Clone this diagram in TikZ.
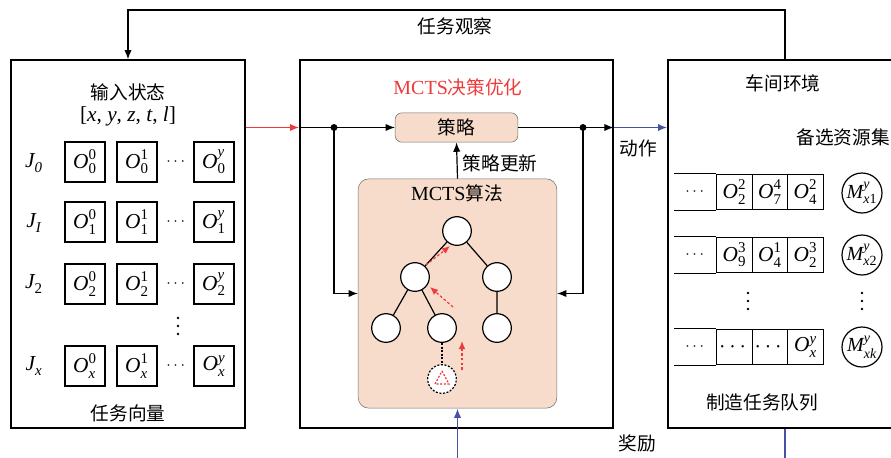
\documentclass[tikz,border=0pt]{standalone}
\usepackage{amsmath}
\usepackage{fontspec}
\setmainfont{Liberation Serif}
\newfontfamily\cjk{Noto Sans CJK SC}
\usetikzlibrary{arrows.meta,calc}
\definecolor{peach}{RGB}{248,220,203}
\definecolor{myred}{RGB}{238,58,58}
\definecolor{myblue}{RGB}{70,82,165}
\definecolor{bgray}{RGB}{110,110,110}
\newcommand\iv[1]{\textit{#1}}
\newcommand\vO[3]{$\textit{#1}_{\text{#2}}^{\text{#3}}$}
\begin{document}
\begin{tikzpicture}[x=0.75pt,y=-0.75pt,
  font=\fontsize{14}{16}\selectfont,
  arr/.style={-{Latex[length=7pt,width=5.5pt]}},
  frame/.style={draw=black, line width=1pt, rectangle, inner sep=0pt},
  obox/.style={draw, line width=0.9pt, rectangle, minimum width=30pt, minimum height=30pt, inner sep=0pt, fill=white, font=\fontsize{16}{18}\selectfont},
  qcell/.style={draw, line width=0.9pt, rectangle, minimum width=26.6pt, minimum height=26.3pt, inner sep=0pt, font=\fontsize{16}{18}\selectfont},
  tn/.style={circle, draw, line width=0.9pt, fill=white, minimum size=21.5pt, inner sep=0pt},
  mc/.style={circle, draw, line width=0.9pt, fill=white, minimum size=30pt, inner sep=0pt, font=\fontsize{15}{17}\selectfont},
  lab/.style={font=\cjk\fontsize{14}{16}\selectfont, inner sep=1pt},
  rowlab/.style={font=\fontsize{16}{18}\selectfont},
  dots/.style={inner sep=0pt, font=\fontsize{13}{14}\selectfont},
  vd/.style={circle, fill, inner sep=0pt, minimum size=2pt},
  rdash/.style={myred, line width=0.9pt, dash pattern=on 2pt off 1.6pt, -{Latex[length=6pt,width=5pt]}},
  line/.style={line width=0.9pt},
  cline/.style={line width=1.3pt}
]
\path[use as bounding box] (0,0) rectangle (891,457);
\clip (0,0) rectangle (891,457);

% frames
\node[frame, minimum width=175.5pt, minimum height=276pt] (left) at (128,244) {};
\node[frame, minimum width=234.75pt, minimum height=276pt] (mid) at (456.5,244) {};
\node[frame, minimum width=225pt, minimum height=276pt] (right) at (818,244) {};

% top observation loop
\coordinate (obs) at (785,60);
\draw[line, arr] (obs) -- (785,10) -| (left.north);
\node[lab] (obsl) at (455,26) {任务观察};

% left box content
\node[lab] (instate) at (128,92) {输入状态};
\node[font=\fontsize{16}{18}\selectfont] (vec) at (128,116) {[\iv{x}, \iv{y}, \iv{z}, \iv{t}, \iv{l}]};
\node[rowlab] (j0) at (34,163) {\vO{J}{\itshape 0}{}};
\node[rowlab] (j1) at (34,223) {\vO{J}{\itshape I}{}};
\node[rowlab] (j2) at (34,284) {\vO{J}{2}{}};
\node[rowlab] (jx) at (34,366) {\vO{J}{\itshape x}{}};
\foreach \r/\yy in {0/162,1/222,2/284,\itshape x/366}{
  \node[obox] at (85,\yy) {\vO{O}{\r}{0}};
  \node[obox] at (137,\yy) {\vO{O}{\r}{1}};
  \node[dots] at (177,\yy) {$\cdots$};
  \node[obox] at (214,\yy) {\vO{O}{\r}{\itshape y}};
}
\foreach \xx/\yc [count=\k] in {178/326, 748/301, 862/301}{
  \node[vd] (vda\k) at (\xx,\yc-8) {};
  \node[vd] (vdb\k) at (\xx,\yc) {};
  \node[vd] (vdc\k) at (\xx,\yc+8) {};
}
\node[lab] (taskvec) at (128,413) {任务向量};

% middle box
\node[font=\fontsize{15}{17}\selectfont, text=myred] (mtitle) at (458,87) {MCTS{\cjk\fontsize{14}{16}\selectfont 决策优化}};
\node[draw=bgray, fill=peach, rounded corners=5pt, minimum width=92pt, minimum height=22pt, inner sep=0pt, lab] (pol) at (456.5,127.5) {策略};
\node[draw=bgray, fill=peach, rounded corners=8pt, minimum width=149pt, minimum height=172pt, inner sep=0pt] (alg) at (457.5,293.5) {};
\node[font=\fontsize{15}{17}\selectfont] (algt) at (457,193) {MCTS{\cjk\fontsize{14}{16}\selectfont 算法}};

\draw[myred, cline, arr] (left.east |- pol) -- (mid.west |- pol);
\coordinate (d1) at (334,127.5);
\coordinate (d2) at (583,127.5);
\draw[line, arr] (mid.west |- pol) -- (pol.west);
\draw[line, arr] (pol.east) -- (mid.east |- pol);
\fill (d1) circle (2.6pt) (d2) circle (2.6pt);
\draw[line, arr] (d1) |- (alg.west);
\draw[line, arr] (d2) |- (alg.east);
\draw[line, arr] (alg.north) -- (pol.south);
\node[lab] (upd) at (500,163) {策略更新};

\draw[myblue, cline, arr] (mid.east |- pol) -- (right.west |- pol);
\node[lab] (act) at (638,148) {动作};

% tree
\node[tn] (t0) at (457,231) {};
\node[tn] (t1) at (415,277) {};
\node[tn] (t2) at (497,277) {};
\node[tn] (t3) at (386,328) {};
\node[tn] (t4) at (442,328) {};
\node[tn] (t5) at (497,328) {};
\node[tn, dash pattern=on 1.5pt off 1.2pt] (t6) at (442,379) {};
\draw[line] (t0) -- (t1) (t0) -- (t2) (t1) -- (t3) (t1) -- (t4) (t2) -- (t5);
\draw[line, dash pattern=on 1.5pt off 1.2pt] (t4) -- (t6);
\draw[myred, line width=0.9pt, dash pattern=on 1.5pt off 1.2pt] ($(t6)+(0,-8)$) -- ($(t6)+(7,5)$) -- ($(t6)+(-7,5)$) -- cycle;
\coordinate (a1s) at (426,265); \coordinate (a1e) at (450,246);
\coordinate (a2s) at (453,307); \coordinate (a2e) at (430,287);
\coordinate (a3s) at (462,370); \coordinate (a3e) at (462,341);
\draw[rdash] (a1s) -- (a1e);
\draw[rdash] (a2s) -- (a2e);
\draw[rdash] (a3s) -- (a3e);

% reward
\coordinate (rw) at (785,470);
\draw[myblue, cline] (right.south -| rw) -- (rw);
\draw[myblue, cline, arr] (alg.south |- rw) -- (alg.south);
\node[lab] (rwl) at (637,443) {奖励};

% right box
\node[lab] (env) at (783,83) {车间环境};
\node[lab] (res) at (843,137) {备选资源集};
\foreach \r/\yy/\ca/\cb/\cc in {1/192/{\vO{O}{2}{2}}/{\vO{O}{7}{4}}/{\vO{O}{4}{2}}, 2/255/{\vO{O}{9}{3}}/{\vO{O}{4}{1}}/{\vO{O}{2}{3}}, 3/347/{$\cdots$}/{$\cdots$}/{\vO{O}{\itshape x}{\itshape y}}}{
  \node[qcell] (q\r b) at (734.5,\yy) {\ca};
  \node[qcell] (q\r c) at (770,\yy) {\cb};
  \node[qcell] (q\r d) at (805.5,\yy) {\cc};
  \node[dots] (q\r a) at (696,\yy) {$\cdots$};
  \draw[line] (q\r b.north west) -- ++(-42,0);
  \draw[line] (q\r b.south west) -- ++(-42,0);
}
\node[mc] (m1) at (862,193) {\vO{M}{\itshape x\upshape 1}{\itshape y}};
\node[mc] (m2) at (862,255) {\vO{M}{\itshape x\upshape 2}{\itshape y}};
\node[mc] (m3) at (862,347) {\vO{M}{\itshape xk}{\itshape y}};
\node[lab] (queue) at (762,402) {制造任务队列};
\end{tikzpicture}
\end{document}
